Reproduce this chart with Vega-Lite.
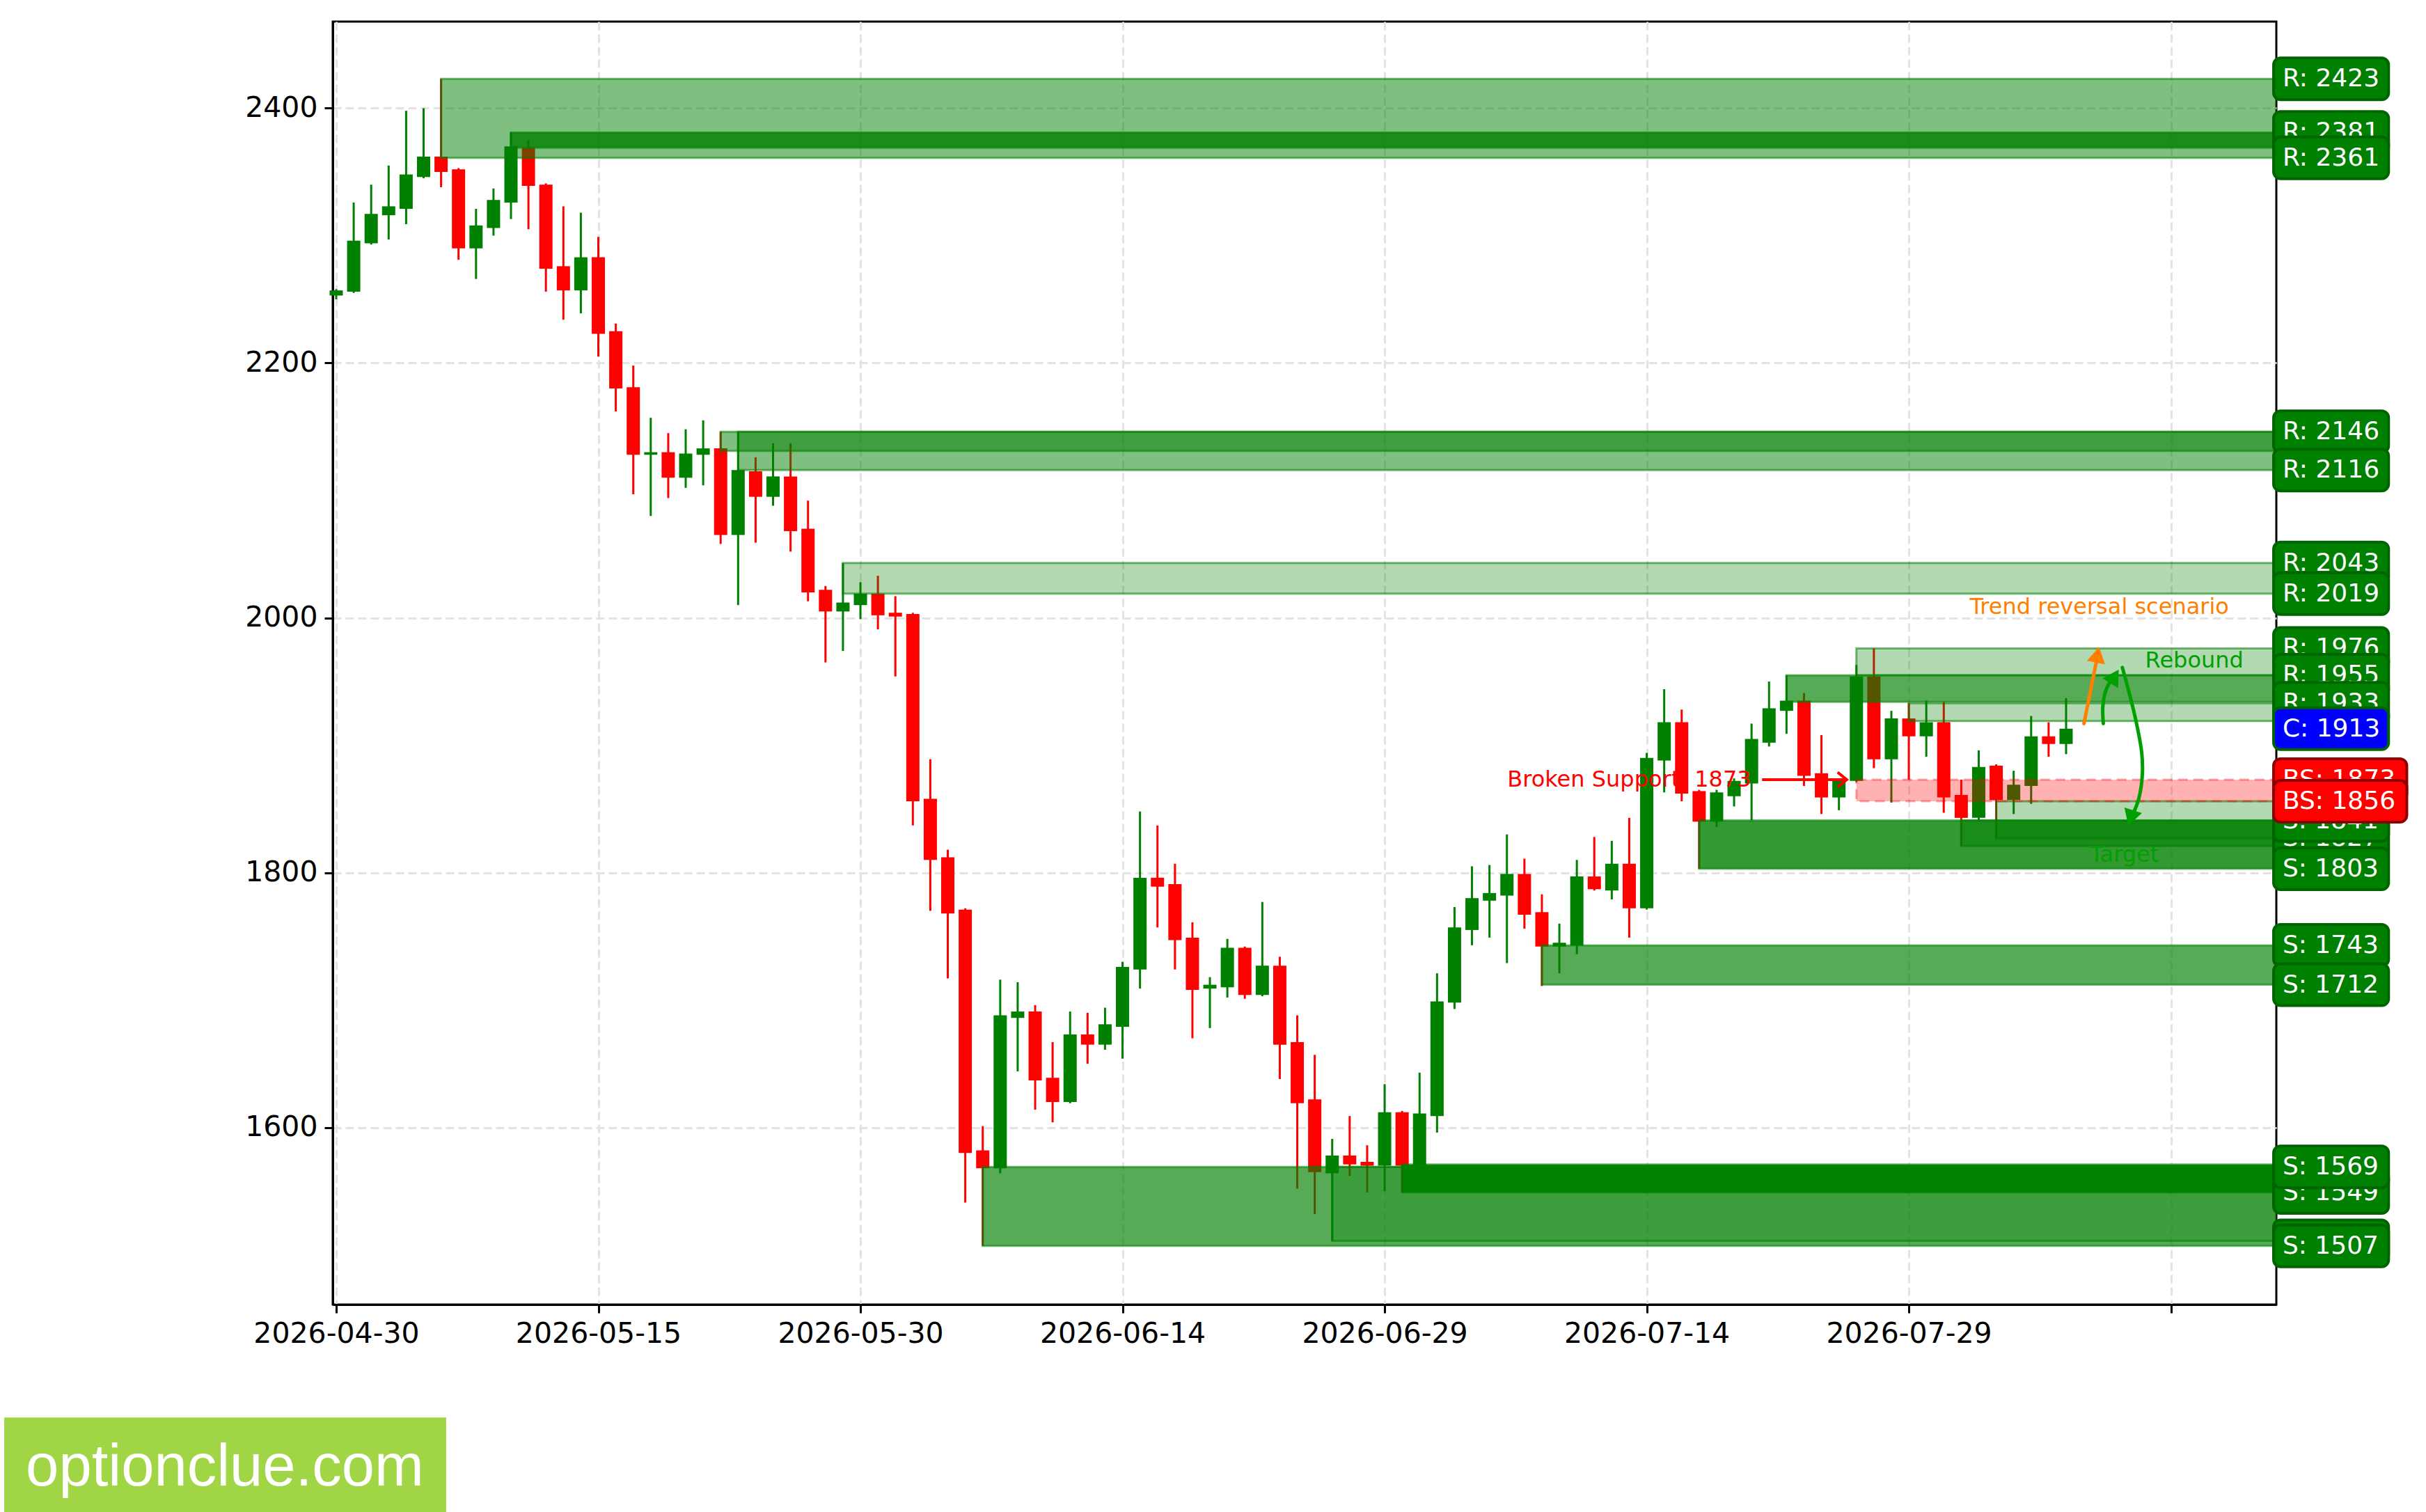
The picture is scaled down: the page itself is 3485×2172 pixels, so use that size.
{
  "$schema": "https://vega.github.io/schema/vega-lite/v6.json",
  "width": 2792,
  "height": 1843,
  "autosize": {"type": "none"},
  "padding": {"left": 478, "top": 31, "right": 215, "bottom": 298},
  "background": "white",
  "config": {
    "font": "DejaVu Sans",
    "view": {"stroke": "black", "strokeWidth": 3}
  },
  "datasets": {
    "candles": [
      {"d":"2026-04-30","o":2253,"h":2258,"l":2250,"c":2257},
      {"d":"2026-05-01","o":2256,"h":2326,"l":2255,"c":2296},
      {"d":"2026-05-02","o":2294,"h":2340,"l":2293,"c":2317},
      {"d":"2026-05-03","o":2316,"h":2355,"l":2297,"c":2323},
      {"d":"2026-05-04","o":2321,"h":2398,"l":2309,"c":2348},
      {"d":"2026-05-05","o":2346,"h":2400,"l":2345,"c":2362},
      {"d":"2026-05-06","o":2362,"h":2423,"l":2338,"c":2350},
      {"d":"2026-05-07","o":2352,"h":2353,"l":2281,"c":2290},
      {"d":"2026-05-08","o":2290,"h":2321,"l":2266,"c":2308},
      {"d":"2026-05-09","o":2306,"h":2337,"l":2300,"c":2328},
      {"d":"2026-05-10","o":2326,"h":2381,"l":2313,"c":2370},
      {"d":"2026-05-11","o":2369,"h":2375,"l":2305,"c":2339},
      {"d":"2026-05-12","o":2340,"h":2341,"l":2256,"c":2274},
      {"d":"2026-05-13","o":2276,"h":2323,"l":2234,"c":2257},
      {"d":"2026-05-14","o":2257,"h":2318,"l":2239,"c":2283},
      {"d":"2026-05-15","o":2283,"h":2299,"l":2205,"c":2223},
      {"d":"2026-05-16","o":2225,"h":2231,"l":2162,"c":2180},
      {"d":"2026-05-17","o":2181,"h":2198,"l":2097,"c":2128},
      {"d":"2026-05-18","o":2128,"h":2157,"l":2080,"c":2130},
      {"d":"2026-05-19","o":2130,"h":2145,"l":2094,"c":2110},
      {"d":"2026-05-20","o":2110,"h":2148,"l":2102,"c":2129},
      {"d":"2026-05-21","o":2128,"h":2155,"l":2104,"c":2133},
      {"d":"2026-05-22","o":2133,"h":2146,"l":2058,"c":2065},
      {"d":"2026-05-23","o":2065,"h":2146,"l":2010,"c":2116},
      {"d":"2026-05-24","o":2115,"h":2126,"l":2059,"c":2095},
      {"d":"2026-05-25","o":2095,"h":2137,"l":2088,"c":2111},
      {"d":"2026-05-26","o":2111,"h":2137,"l":2052,"c":2068},
      {"d":"2026-05-27","o":2070,"h":2092,"l":2013,"c":2020},
      {"d":"2026-05-28","o":2022,"h":2025,"l":1965,"c":2005},
      {"d":"2026-05-29","o":2005,"h":2043,"l":1974,"c":2012},
      {"d":"2026-05-30","o":2010,"h":2028,"l":1999,"c":2019},
      {"d":"2026-05-31","o":2019,"h":2033,"l":1991,"c":2002},
      {"d":"2026-06-01","o":2004,"h":2017,"l":1954,"c":2001},
      {"d":"2026-06-02","o":2003,"h":2004,"l":1837,"c":1856},
      {"d":"2026-06-03","o":1858,"h":1889,"l":1770,"c":1810},
      {"d":"2026-06-04","o":1812,"h":1818,"l":1717,"c":1768},
      {"d":"2026-06-05","o":1771,"h":1772,"l":1541,"c":1580},
      {"d":"2026-06-06","o":1582,"h":1601,"l":1507,"c":1568},
      {"d":"2026-06-07","o":1568,"h":1716,"l":1564,"c":1688},
      {"d":"2026-06-08","o":1686,"h":1714,"l":1644,"c":1691},
      {"d":"2026-06-09","o":1691,"h":1696,"l":1614,"c":1637},
      {"d":"2026-06-10","o":1639,"h":1667,"l":1604,"c":1620},
      {"d":"2026-06-11","o":1620,"h":1691,"l":1619,"c":1673},
      {"d":"2026-06-12","o":1673,"h":1690,"l":1650,"c":1665},
      {"d":"2026-06-13","o":1665,"h":1694,"l":1661,"c":1681},
      {"d":"2026-06-14","o":1679,"h":1730,"l":1654,"c":1726},
      {"d":"2026-06-15","o":1724,"h":1848,"l":1709,"c":1796},
      {"d":"2026-06-16","o":1796,"h":1837,"l":1757,"c":1789},
      {"d":"2026-06-17","o":1791,"h":1807,"l":1724,"c":1747},
      {"d":"2026-06-18","o":1749,"h":1761,"l":1670,"c":1708},
      {"d":"2026-06-19","o":1709,"h":1718,"l":1678,"c":1712},
      {"d":"2026-06-20","o":1710,"h":1748,"l":1702,"c":1741},
      {"d":"2026-06-21","o":1741,"h":1742,"l":1701,"c":1704},
      {"d":"2026-06-22","o":1704,"h":1777,"l":1703,"c":1727},
      {"d":"2026-06-23","o":1727,"h":1734,"l":1638,"c":1665},
      {"d":"2026-06-24","o":1667,"h":1688,"l":1552,"c":1619},
      {"d":"2026-06-25","o":1622,"h":1657,"l":1532,"c":1565},
      {"d":"2026-06-26","o":1564,"h":1591,"l":1511,"c":1578},
      {"d":"2026-06-27","o":1578,"h":1609,"l":1562,"c":1571},
      {"d":"2026-06-28","o":1573,"h":1586,"l":1549,"c":1570},
      {"d":"2026-06-29","o":1570,"h":1634,"l":1550,"c":1612},
      {"d":"2026-06-30","o":1612,"h":1613,"l":1549,"c":1570},
      {"d":"2026-07-01","o":1570,"h":1643,"l":1569,"c":1611},
      {"d":"2026-07-02","o":1609,"h":1721,"l":1596,"c":1699},
      {"d":"2026-07-03","o":1698,"h":1773,"l":1693,"c":1757},
      {"d":"2026-07-04","o":1755,"h":1805,"l":1743,"c":1780},
      {"d":"2026-07-05","o":1778,"h":1806,"l":1749,"c":1784},
      {"d":"2026-07-06","o":1782,"h":1830,"l":1729,"c":1799},
      {"d":"2026-07-07","o":1799,"h":1811,"l":1756,"c":1767},
      {"d":"2026-07-08","o":1769,"h":1783,"l":1711,"c":1742},
      {"d":"2026-07-09","o":1742,"h":1760,"l":1721,"c":1745},
      {"d":"2026-07-10","o":1743,"h":1810,"l":1736,"c":1797},
      {"d":"2026-07-11","o":1797,"h":1828,"l":1786,"c":1787},
      {"d":"2026-07-12","o":1786,"h":1825,"l":1779,"c":1807},
      {"d":"2026-07-13","o":1807,"h":1843,"l":1749,"c":1772},
      {"d":"2026-07-14","o":1772,"h":1894,"l":1771,"c":1890},
      {"d":"2026-07-15","o":1888,"h":1944,"l":1863,"c":1918},
      {"d":"2026-07-16","o":1918,"h":1928,"l":1856,"c":1862},
      {"d":"2026-07-17","o":1864,"h":1865,"l":1803,"c":1840},
      {"d":"2026-07-18","o":1840,"h":1865,"l":1836,"c":1863},
      {"d":"2026-07-19","o":1860,"h":1874,"l":1852,"c":1872},
      {"d":"2026-07-20","o":1870,"h":1917,"l":1841,"c":1905},
      {"d":"2026-07-21","o":1902,"h":1950,"l":1899,"c":1929},
      {"d":"2026-07-22","o":1927,"h":1955,"l":1909,"c":1935},
      {"d":"2026-07-23","o":1935,"h":1941,"l":1868,"c":1876},
      {"d":"2026-07-24","o":1878,"h":1908,"l":1846,"c":1859},
      {"d":"2026-07-25","o":1859,"h":1872,"l":1849,"c":1872},
      {"d":"2026-07-26","o":1872,"h":1963,"l":1871,"c":1954},
      {"d":"2026-07-27","o":1954,"h":1976,"l":1882,"c":1889},
      {"d":"2026-07-28","o":1889,"h":1927,"l":1855,"c":1921},
      {"d":"2026-07-29","o":1921,"h":1933,"l":1873,"c":1907},
      {"d":"2026-07-30","o":1907,"h":1935,"l":1891,"c":1918},
      {"d":"2026-07-31","o":1918,"h":1934,"l":1847,"c":1859},
      {"d":"2026-08-01","o":1861,"h":1873,"l":1821,"c":1843},
      {"d":"2026-08-02","o":1843,"h":1896,"l":1841,"c":1883},
      {"d":"2026-08-03","o":1884,"h":1885,"l":1827,"c":1857},
      {"d":"2026-08-04","o":1857,"h":1880,"l":1846,"c":1869},
      {"d":"2026-08-05","o":1868,"h":1923,"l":1854,"c":1907},
      {"d":"2026-08-06","o":1907,"h":1918,"l":1891,"c":1901},
      {"d":"2026-08-07","o":1901,"h":1937,"l":1893,"c":1913}
    ],
    "zones": [
      {"d":"2026-05-06","lo":2361,"hi":2423,"s":"b"},
      {"d":"2026-05-10","lo":2369,"hi":2381,"s":"d"},
      {"d":"2026-05-22","lo":2131,"hi":2146,"s":"b"},
      {"d":"2026-05-23","lo":2116,"hi":2146,"s":"b"},
      {"d":"2026-05-29","lo":2019,"hi":2043,"s":"a"},
      {"d":"2026-06-06","lo":1507,"hi":1569,"s":"c"},
      {"d":"2026-06-26","lo":1511,"hi":1569,"s":"a"},
      {"d":"2026-06-30","lo":1549,"hi":1571,"s":"e"},
      {"d":"2026-07-08","lo":1712,"hi":1743,"s":"c"},
      {"d":"2026-07-17","lo":1803,"hi":1841,"s":"d"},
      {"d":"2026-07-22","lo":1934,"hi":1955,"s":"c"},
      {"d":"2026-07-26","lo":1955,"hi":1976,"s":"a"},
      {"d":"2026-07-29","lo":1919,"hi":1933,"s":"a"},
      {"d":"2026-08-01","lo":1821,"hi":1841,"s":"b"},
      {"d":"2026-08-03","lo":1827,"hi":1856,"s":"a"}
    ],
    "curves": [
      {"g":"up","i":1,"d":"2026-08-09T03:07:00Z","p":1917},
      {"g":"up","i":2,"d":"2026-08-09T02:24:00Z","p":1930},
      {"g":"up","i":3,"d":"2026-08-09T05:31:00Z","p":1941},
      {"g":"up","i":4,"d":"2026-08-09T11:31:00Z","p":1949},
      {"g":"up","i":5,"d":"2026-08-09T17:00:00Z","p":1953},
      {"g":"down","i":1,"d":"2026-08-10T05:17:00Z","p":1961},
      {"g":"down","i":2,"d":"2026-08-10T11:31:00Z","p":1948},
      {"g":"down","i":3,"d":"2026-08-10T23:17:00Z","p":1921},
      {"g":"down","i":4,"d":"2026-08-11T07:55:00Z","p":1894},
      {"g":"down","i":5,"d":"2026-08-11T08:38:00Z","p":1876},
      {"g":"down","i":6,"d":"2026-08-11T03:50:00Z","p":1858},
      {"g":"down","i":7,"d":"2026-08-10T19:55:00Z","p":1846}
    ],
    "labels": [
      {"p":2423,"t":"R: 2423","k":"R","tier":1},
      {"p":2381,"t":"R: 2381","k":"R","tier":1},
      {"p":2361,"t":"R: 2361","k":"R","tier":2},
      {"p":2146,"t":"R: 2146","k":"R","tier":1},
      {"p":2116,"t":"R: 2116","k":"R","tier":2},
      {"p":2043,"t":"R: 2043","k":"R","tier":1},
      {"p":2019,"t":"R: 2019","k":"R","tier":2},
      {"p":1976,"t":"R: 1976","k":"R","tier":1},
      {"p":1955,"t":"R: 1955","k":"R","tier":2},
      {"p":1933,"t":"R: 1933","k":"R","tier":3},
      {"p":1913,"t":"C: 1913","k":"C","tier":4},
      {"p":1827,"t":"S: 1827","k":"S","tier":1},
      {"p":1841,"t":"S: 1841","k":"S","tier":2},
      {"p":1803,"t":"S: 1803","k":"S","tier":2},
      {"p":1873,"t":"BS: 1873","k":"BS","tier":2},
      {"p":1856,"t":"BS: 1856","k":"BS","tier":3},
      {"p":1743,"t":"S: 1743","k":"S","tier":1},
      {"p":1712,"t":"S: 1712","k":"S","tier":2},
      {"p":1549,"t":"S: 1549","k":"S","tier":1},
      {"p":1569,"t":"S: 1569","k":"S","tier":2},
      {"p":1511,"t":"S: 1511","k":"S","tier":1},
      {"p":1507,"t":"S: 1507","k":"S","tier":2}
    ]
  },
  "layer": [
    {
      "data": {"name": "candles"},
      "mark": {"type": "rule", "strokeWidth": 3},
      "encoding": {
        "x": {
          "field": "d", "type": "temporal", "title": null,
          "scale": {"type": "utc", "nice": false, "domain": [
            {"year": 2026, "month": 4, "date": 30, "utc": true},
            {"year": 2026, "month": 8, "date": 18, "hours": 20, "utc": true}
          ]},
          "axis": {
            "values": [
              {"year": 2026, "month": 4, "date": 30, "utc": true},
              {"year": 2026, "month": 5, "date": 15, "utc": true},
              {"year": 2026, "month": 5, "date": 30, "utc": true},
              {"year": 2026, "month": 6, "date": 14, "utc": true},
              {"year": 2026, "month": 6, "date": 29, "utc": true},
              {"year": 2026, "month": 7, "date": 14, "utc": true},
              {"year": 2026, "month": 7, "date": 29, "utc": true},
              {"year": 2026, "month": 8, "date": 13, "utc": true}
            ],
            "labelExpr": "utcFormat(datum.value, '%Y-%m-%d') == '2026-08-13' ? '' : utcFormat(datum.value, '%Y-%m-%d')",
            "title": null, "grid": true, "labelLimit": 0,
            "labelFontSize": 41, "labelColor": "black", "labelPadding": 10,
            "labelFlush": false, "labelOverlap": false,
            "tickSize": 12, "tickWidth": 3, "tickColor": "black",
            "domainColor": "black", "domainWidth": 3,
            "gridColor": "#e3e3e3", "gridDash": [12, 6], "gridWidth": 3
          }
        },
        "y": {
          "field": "l", "type": "quantitative", "title": null,
          "scale": {"domain": [1461, 2468], "nice": false, "zero": false},
          "axis": {
            "values": [1600, 1800, 2000, 2200, 2400], "format": "d",
            "title": null, "grid": true, "labelLimit": 0,
            "labelFontSize": 41, "labelColor": "black", "labelPadding": 10,
            "tickSize": 12, "tickWidth": 3, "tickColor": "black",
            "domainColor": "black", "domainWidth": 3,
            "gridColor": "#e3e3e3", "gridDash": [12, 6], "gridWidth": 3
          }
        },
        "y2": {"field": "h"},
        "color": {"condition": {"test": "datum.c >= datum.o", "value": "#008000"}, "value": "#ff0000"}
      }
    },
    {
      "data": {"name": "candles"},
      "mark": {"type": "bar", "width": 19},
      "encoding": {
        "x": {"field": "d", "type": "temporal", "title": null},
        "y": {"field": "o", "type": "quantitative", "title": null},
        "y2": {"field": "c"},
        "color": {"condition": {"test": "datum.c >= datum.o", "value": "#008000"}, "value": "#ff0000"}
      }
    },
    {
      "data": {"name": "zones"},
      "mark": {"type": "rect", "clip": true, "fill": "#008000", "stroke": "#008000", "strokeOpacity": 0.55, "strokeWidth": 3},
      "encoding": {
        "x": {"field": "d", "type": "temporal", "title": null},
        "x2": {"datum": {"year": 2026, "month": 9, "date": 1, "utc": true}},
        "y": {"field": "lo", "type": "quantitative", "title": null},
        "y2": {"field": "hi"},
        "fillOpacity": {"field": "s", "type": "ordinal", "legend": null,
          "scale": {"type": "ordinal", "domain": ["a", "b", "c", "d", "e"], "range": [0.3, 0.5, 0.66, 0.8, 0.92]}}
      }
    },
    {
      "data": {"values": [{"d": "2026-07-26", "lo": 1856, "hi": 1873}]},
      "mark": {"type": "rect", "clip": true, "fill": "#ff0000", "fillOpacity": 0.3, "stroke": "#ff0000", "strokeOpacity": 0.35, "strokeWidth": 3, "strokeDash": [14, 8]},
      "encoding": {
        "x": {"field": "d", "type": "temporal", "title": null},
        "x2": {"datum": {"year": 2026, "month": 9, "date": 1, "utc": true}},
        "y": {"field": "lo", "type": "quantitative", "title": null},
        "y2": {"field": "hi"}
      }
    },
    {
      "data": {"values": [{"d": "2026-07-19T23:30:00Z", "p": 1873, "t": "Broken Support: 1873"}]},
      "mark": {"type": "text", "align": "right", "baseline": "middle", "fontSize": 32, "color": "#ff0000"},
      "encoding": {
        "x": {"field": "d", "type": "temporal", "title": null},
        "y": {"field": "p", "type": "quantitative", "title": null},
        "text": {"field": "t"}
      }
    },
    {
      "data": {"values": [{"d": "2026-07-20T14:24:00Z", "d2": "2026-07-25T10:00:00Z", "p": 1873}]},
      "mark": {"type": "rule", "color": "#ff0000", "strokeWidth": 4},
      "encoding": {
        "x": {"field": "d", "type": "temporal", "title": null},
        "x2": {"field": "d2"},
        "y": {"field": "p", "type": "quantitative", "title": null}
      }
    },
    {
      "data": {"values": [{"d": "2026-07-25T10:48:00Z", "p": 1873}]},
      "mark": {"type": "point", "shape": "M-1,-0.8L0,0L-1,0.8", "filled": false, "stroke": "#ff0000", "strokeWidth": 4, "size": 700, "opacity": 1},
      "encoding": {
        "x": {"field": "d", "type": "temporal", "title": null},
        "y": {"field": "p", "type": "quantitative", "title": null}
      }
    },
    {
      "data": {"values": [{"d": "2026-08-08T00:30:00Z", "d2": "2026-08-08T17:45:00Z", "p": 1917, "p2": 1966}]},
      "mark": {"type": "rule", "color": "#ff8000", "strokeWidth": 5, "strokeCap": "round"},
      "encoding": {
        "x": {"field": "d", "type": "temporal", "title": null},
        "x2": {"field": "d2"},
        "y": {"field": "p", "type": "quantitative", "title": null},
        "y2": {"field": "p2"}
      }
    },
    {
      "data": {"values": [{"d": "2026-08-08T19:12:00Z", "p": 1971}]},
      "mark": {"type": "point", "shape": "triangle-up", "filled": true, "color": "#ff8000", "size": 700, "angle": 11, "opacity": 1},
      "encoding": {
        "x": {"field": "d", "type": "temporal", "title": null},
        "y": {"field": "p", "type": "quantitative", "title": null}
      }
    },
    {
      "data": {"values": [{"d": "2026-08-08T21:36:00Z", "p": 2008.5, "t": "Trend reversal scenario"}]},
      "mark": {"type": "text", "align": "center", "baseline": "middle", "fontSize": 32, "color": "#ff8000"},
      "encoding": {
        "x": {"field": "d", "type": "temporal", "title": null},
        "y": {"field": "p", "type": "quantitative", "title": null},
        "text": {"field": "t"}
      }
    },
    {
      "data": {"name": "curves"},
      "mark": {"type": "line", "color": "#00a000", "strokeWidth": 5, "interpolate": "catmull-rom", "strokeCap": "round"},
      "encoding": {
        "x": {"field": "d", "type": "temporal", "title": null},
        "y": {"field": "p", "type": "quantitative", "title": null},
        "detail": {"field": "g", "type": "nominal"},
        "order": {"field": "i", "type": "quantitative"}
      }
    },
    {
      "data": {"values": [{"d": "2026-08-09T18:29:00Z", "p": 1954}]},
      "mark": {"type": "point", "shape": "triangle-up", "filled": true, "color": "#00a000", "size": 700, "angle": 32, "opacity": 1},
      "encoding": {
        "x": {"field": "d", "type": "temporal", "title": null},
        "y": {"field": "p", "type": "quantitative", "title": null}
      }
    },
    {
      "data": {"values": [{"d": "2026-08-10T16:48:00Z", "p": 1843}]},
      "mark": {"type": "point", "shape": "triangle-down", "filled": true, "color": "#00a000", "size": 700, "angle": 18, "opacity": 1},
      "encoding": {
        "x": {"field": "d", "type": "temporal", "title": null},
        "y": {"field": "p", "type": "quantitative", "title": null}
      }
    },
    {
      "data": {"values": [
        {"d": "2026-08-14T08:10:00Z", "p": 1966.5, "t": "Rebound"},
        {"d": "2026-08-10T08:10:00Z", "p": 1814, "t": "Target"}
      ]},
      "mark": {"type": "text", "align": "center", "baseline": "middle", "fontSize": 32, "color": "#00a000"},
      "encoding": {
        "x": {"field": "d", "type": "temporal", "title": null},
        "y": {"field": "p", "type": "quantitative", "title": null},
        "text": {"field": "t"}
      }
    },
    {
      "data": {"name": "labels"},
      "transform": [{"filter": "datum.tier == 1"}],
      "mark": {"type": "rect", "height": 60, "cornerRadius": 10, "strokeWidth": 4},
      "encoding": {
        "x": {"datum": {"year": 2026, "month": 8, "date": 18, "hours": 21, "utc": true}, "type": "temporal"},
        "x2": {"datum": {"year": 2026, "month": 8, "date": 25, "hours": 11, "utc": true}},
        "y": {"field": "p", "type": "quantitative", "title": null},
        "fill": {"field": "k", "type": "nominal", "legend": null, "scale": {"domain": ["R", "S", "C", "BS"], "range": ["#008000", "#008000", "#0000ff", "#ff0000"]}},
        "stroke": {"field": "k", "type": "nominal", "legend": null, "scale": {"domain": ["R", "S", "C", "BS"], "range": ["#006400", "#006400", "#006400", "#8b0000"]}}
      }
    },
    {
      "data": {"name": "labels"},
      "transform": [{"filter": "datum.tier == 1"}],
      "mark": {"type": "text", "align": "left", "baseline": "middle", "fontSize": 36, "color": "white"},
      "encoding": {
        "x": {"datum": {"year": 2026, "month": 8, "date": 19, "hours": 9, "minutes": 20, "utc": true}, "type": "temporal"},
        "y": {"field": "p", "type": "quantitative", "title": null},
        "text": {"field": "t"}
      }
    },
    {
      "data": {"name": "labels"},
      "transform": [{"filter": "datum.tier == 2 && datum.k != 'BS'"}],
      "mark": {"type": "rect", "height": 60, "cornerRadius": 10, "strokeWidth": 4},
      "encoding": {
        "x": {"datum": {"year": 2026, "month": 8, "date": 18, "hours": 21, "utc": true}, "type": "temporal"},
        "x2": {"datum": {"year": 2026, "month": 8, "date": 25, "hours": 11, "utc": true}},
        "y": {"field": "p", "type": "quantitative", "title": null},
        "fill": {"field": "k", "type": "nominal", "legend": null},
        "stroke": {"field": "k", "type": "nominal", "legend": null}
      }
    },
    {
      "data": {"name": "labels"},
      "transform": [{"filter": "datum.tier == 2 && datum.k == 'BS'"}],
      "mark": {"type": "rect", "height": 60, "cornerRadius": 10, "strokeWidth": 4},
      "encoding": {
        "x": {"datum": {"year": 2026, "month": 8, "date": 18, "hours": 21, "utc": true}, "type": "temporal"},
        "x2": {"datum": {"year": 2026, "month": 8, "date": 26, "hours": 12, "utc": true}},
        "y": {"field": "p", "type": "quantitative", "title": null},
        "fill": {"field": "k", "type": "nominal", "legend": null},
        "stroke": {"field": "k", "type": "nominal", "legend": null}
      }
    },
    {
      "data": {"name": "labels"},
      "transform": [{"filter": "datum.tier == 2"}],
      "mark": {"type": "text", "align": "left", "baseline": "middle", "fontSize": 36, "color": "white"},
      "encoding": {
        "x": {"datum": {"year": 2026, "month": 8, "date": 19, "hours": 9, "minutes": 20, "utc": true}, "type": "temporal"},
        "y": {"field": "p", "type": "quantitative", "title": null},
        "text": {"field": "t"}
      }
    },
    {
      "data": {"name": "labels"},
      "transform": [{"filter": "datum.tier == 3 && datum.k != 'BS'"}],
      "mark": {"type": "rect", "height": 60, "cornerRadius": 10, "strokeWidth": 4},
      "encoding": {
        "x": {"datum": {"year": 2026, "month": 8, "date": 18, "hours": 21, "utc": true}, "type": "temporal"},
        "x2": {"datum": {"year": 2026, "month": 8, "date": 25, "hours": 11, "utc": true}},
        "y": {"field": "p", "type": "quantitative", "title": null},
        "fill": {"field": "k", "type": "nominal", "legend": null},
        "stroke": {"field": "k", "type": "nominal", "legend": null}
      }
    },
    {
      "data": {"name": "labels"},
      "transform": [{"filter": "datum.tier == 3 && datum.k == 'BS'"}],
      "mark": {"type": "rect", "height": 60, "cornerRadius": 10, "strokeWidth": 4},
      "encoding": {
        "x": {"datum": {"year": 2026, "month": 8, "date": 18, "hours": 21, "utc": true}, "type": "temporal"},
        "x2": {"datum": {"year": 2026, "month": 8, "date": 26, "hours": 12, "utc": true}},
        "y": {"field": "p", "type": "quantitative", "title": null},
        "fill": {"field": "k", "type": "nominal", "legend": null},
        "stroke": {"field": "k", "type": "nominal", "legend": null}
      }
    },
    {
      "data": {"name": "labels"},
      "transform": [{"filter": "datum.tier == 3"}],
      "mark": {"type": "text", "align": "left", "baseline": "middle", "fontSize": 36, "color": "white"},
      "encoding": {
        "x": {"datum": {"year": 2026, "month": 8, "date": 19, "hours": 9, "minutes": 20, "utc": true}, "type": "temporal"},
        "y": {"field": "p", "type": "quantitative", "title": null},
        "text": {"field": "t"}
      }
    },
    {
      "data": {"name": "labels"},
      "transform": [{"filter": "datum.tier == 4"}],
      "mark": {"type": "rect", "height": 60, "cornerRadius": 10, "strokeWidth": 4},
      "encoding": {
        "x": {"datum": {"year": 2026, "month": 8, "date": 18, "hours": 21, "utc": true}, "type": "temporal"},
        "x2": {"datum": {"year": 2026, "month": 8, "date": 25, "hours": 11, "utc": true}},
        "y": {"field": "p", "type": "quantitative", "title": null},
        "fill": {"field": "k", "type": "nominal", "legend": null},
        "stroke": {"field": "k", "type": "nominal", "legend": null}
      }
    },
    {
      "data": {"name": "labels"},
      "transform": [{"filter": "datum.tier == 4"}],
      "mark": {"type": "text", "align": "left", "baseline": "middle", "fontSize": 36, "color": "white"},
      "encoding": {
        "x": {"datum": {"year": 2026, "month": 8, "date": 19, "hours": 9, "minutes": 20, "utc": true}, "type": "temporal"},
        "y": {"field": "p", "type": "quantitative", "title": null},
        "text": {"field": "t"}
      }
    },
    {
      "data": {"values": [{"brand": "optionclue.com"}]},
      "mark": {"type": "rect", "color": "#a0d546", "clip": false},
      "encoding": {
        "x": {"datum": {"year": 2026, "month": 4, "date": 11, "utc": true}, "type": "temporal"},
        "x2": {"datum": {"year": 2026, "month": 5, "date": 6, "hours": 7, "utc": true}},
        "y": {"datum": 1372.4, "type": "quantitative"},
        "y2": {"datum": 1290}
      }
    },
    {
      "data": {"values": [{"brand": "optionclue.com"}]},
      "mark": {"type": "text", "align": "center", "baseline": "middle", "font": "Liberation Sans", "fontSize": 85, "color": "white"},
      "encoding": {
        "x": {"datum": {"year": 2026, "month": 4, "date": 23, "hours": 15, "utc": true}, "type": "temporal"},
        "y": {"datum": 1333, "type": "quantitative"},
        "text": {"field": "brand"}
      }
    }
  ]
}
